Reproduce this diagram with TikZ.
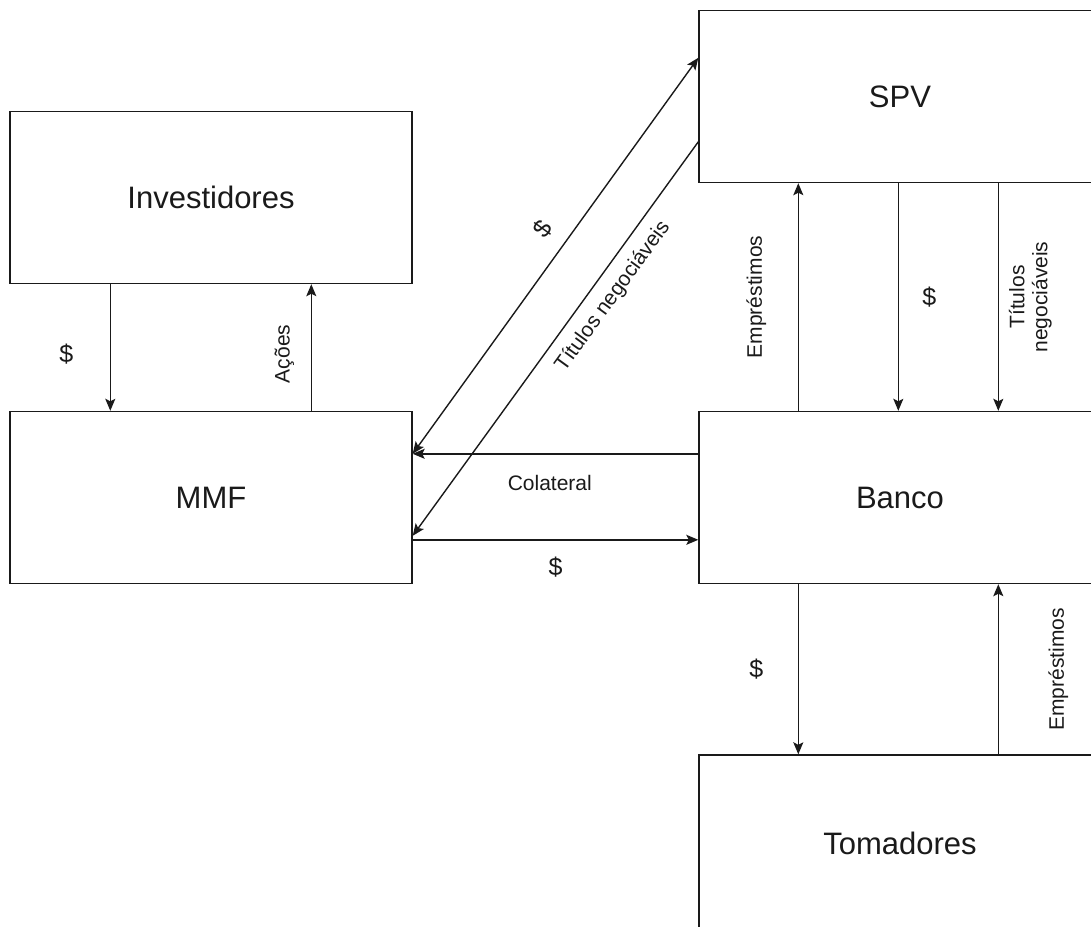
\documentclass[tikz,border=0pt]{standalone}
\usepackage{fontspec}
\setmainfont{Liberation Sans}
\usetikzlibrary{arrows.meta, calc}
\definecolor{ink}{HTML}{1a1a1a}
\tikzset{
  entbox/.style = {draw=ink, line width=1.4pt, minimum width=402pt,
                   minimum height=172pt, inner sep=0pt, text=ink,
                   font=\fontsize{31}{36}\selectfont},
  tip/.tip      = {Stealth[length=12pt, width=10pt, inset=2.5pt]},
  flow/.style   = {-tip, line width=1.4pt, draw=ink},
  lbl/.style    = {font=\fontsize{21}{23}\selectfont, inner sep=0pt,
                   align=center, text=ink},
  dollar/.style = {font=\fontsize{25}{28}\selectfont, inner sep=0pt, text=ink},
}
\begin{document}
\begin{tikzpicture}[x=1pt, y=-1pt]
    \useasboundingbox (0,0) rectangle (1091,926);
    \clip (0,0) rectangle (1091,926);

    \node[entbox] (inv)   at (211,197.5) {Investidores};
    \node[entbox] (mmf)   at (211,497.5) {MMF};
    \node[entbox] (spv)   at (900,96.5)  {SPV};
    \node[entbox] (banco) at (900,497.5) {Banco};
    \node[entbox, minimum height=176pt] (tom) at (900,843) {Tomadores};

    % Investidores <-> MMF
    \draw[flow] ($(inv.south west)+(101,0)$) -- ($(mmf.north west)+(101,0)$)
      node[dollar, pos=0.55, xshift=-44pt] {\$};
    \draw[flow] ($(mmf.north west)+(302,0)$) -- ($(inv.south west)+(302,0)$)
      node[lbl, pos=0.45, xshift=-27pt, rotate=90] {Ações};

    % MMF <-> Banco
    \draw[flow] ($(banco.north west)+(0,43)$) -- ($(mmf.north east)+(0,43)$)
      node[lbl, pos=0.52, yshift=-29pt] {Colateral};
    \draw[flow] ($(mmf.north east)+(0,129)$) -- ($(banco.north west)+(0,129)$)
      node[dollar, pos=0.5, yshift=-27pt] {\$};

    % MMF <-> SPV
    \draw[flow, tip-tip] ($(mmf.north east)+(0,43)$) -- ($(spv.north west)+(0,48)$)
      node[dollar, pos=0.53, sloped, above=15pt] {\$};
    \draw[flow] ($(spv.north west)+(0,132)$) -- ($(mmf.north east)+(0,125)$)
      node[lbl, pos=0.36, sloped, below=11pt] {Títulos negociáveis};

    % Banco <-> SPV
    \draw[flow] ($(banco.north west)+(100,0)$) -- ($(spv.south west)+(100,0)$)
      node[lbl, pos=0.5, xshift=-42pt, rotate=90] {Empréstimos};
    \draw[flow] ($(spv.south west)+(200,0)$) -- ($(banco.north west)+(200,0)$)
      node[dollar, pos=0.5, xshift=31pt] {\$};
    \draw[flow] ($(spv.south west)+(300,0)$) -- ($(banco.north west)+(300,0)$)
      node[lbl, pos=0.5, xshift=32pt, rotate=90] {Títulos\\negociáveis};

    % Banco <-> Tomadores
    \draw[flow] ($(banco.south west)+(100,0)$) -- ($(tom.north west)+(100,0)$)
      node[dollar, pos=0.5, xshift=-42pt] {\$};
    \draw[flow] ($(tom.north west)+(300,0)$) -- ($(banco.south west)+(300,0)$)
      node[lbl, pos=0.5, xshift=60pt, rotate=90] {Empréstimos};
\end{tikzpicture}
\end{document}
